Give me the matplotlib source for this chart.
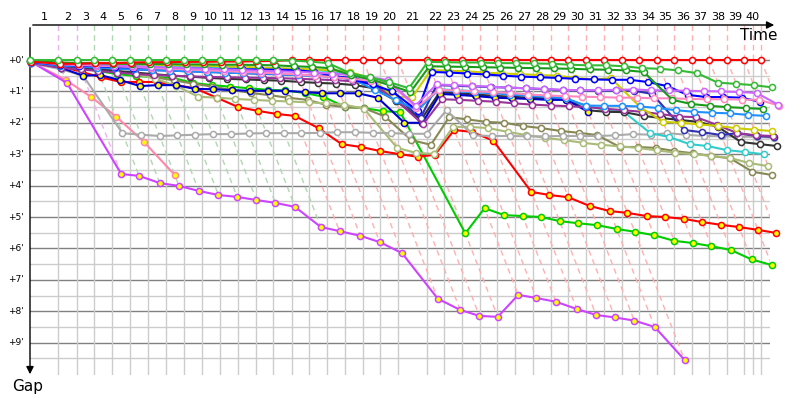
import numpy as np
import matplotlib.pyplot as plt
import matplotlib.transforms as mtrans

# leader's elapsed time (minutes) at the end of each lap, lap 0 = start
leader_time = [0.0, 2.30, 3.85, 5.25, 6.72, 8.20, 9.67, 11.15, 12.62, 14.10,
               15.57, 17.05, 18.52, 19.92, 21.48, 22.87, 24.34, 25.82, 27.30, 28.69,
               30.16, 32.54, 33.93, 35.41, 36.89, 38.28, 39.75, 41.23, 42.70, 44.10,
               45.57, 47.05, 48.52, 49.92, 51.39, 52.79, 54.26, 55.66, 57.13, 58.52,
               59.92]
time_limit = 59.26

# gap to the leader (minutes) after each lap, lap 0 = start
gap_red = [0.05, 0.12, 0.12, 0.10, 0.10, 0.08, 0.07, 0.07, 0.06, 0.06, 0.05, 0.05, 0.04, 0.03,
           0, 0, 0, 0, 0, 0, 0, 0, 0, 0, 0, 0, 0, 0, 0, 0, 0, 0, 0, 0, 0, 0, 0, 0, 0, 0, 0]
gap_green = [0, 0, 0, 0, 0, 0, 0, 0, 0, 0, 0, 0, 0, 0, 0.02, 0.05, 0.10, 0.42, 0.55, 0.70,
             0.90, 0.06, 0.07, 0.08, 0.08, 0.10, 0.10, 0.11, 0.12, 0.15, 0.17, 0.17, 0.20,
             0.26, 0.28, 0.33, 0.42, 0.72, 0.76, 0.80, 0.87]
gap_dkgreen = [0.03, 0.08, 0.10, 0.10, 0.12, 0.12, 0.13, 0.13, 0.14, 0.14, 0.15, 0.15, 0.16,
               0.17, 0.20, 0.22, 0.26, 0.48, 0.62, 0.80, 1.02, 0.20, 0.21, 0.22, 0.23, 0.24,
               0.25, 0.26, 0.27, 0.28, 0.30, 0.31, 0.33, 0.38, 1.27, 1.40, 1.46, 1.50, 1.53, 1.56]
gap_violet = [0.02, 0.10, 0.12, 0.15, 0.18, 0.20, 0.22, 0.24, 0.26, 0.28, 0.30, 0.32, 0.34,
              0.36, 0.38, 0.40, 0.43, 0.48, 0.55, 0.64, 1.45, 0.78, 0.80, 0.82, 0.85, 0.88,
              0.90, 0.92, 0.95, 0.96, 0.96, 0.95, 0.94, 0.96, 0.97, 0.98, 0.99, 1.00, 1.02,
              1.05, 1.43]
gap_pink = [0.04, 0.14, 0.16, 0.18, 0.20, 0.22, 0.25, 0.28, 0.30, 0.33, 0.35, 0.38, 0.40,
            0.43, 0.46, 0.50, 0.55, 0.60, 0.66, 0.70, 1.52, 0.95, 0.97, 1.00, 1.02, 1.05,
            1.10, 1.13, 1.15, 1.17, 1.18, 1.20, 1.20, 1.22, 1.22, 1.24, 1.25, 1.25, 1.26,
            1.27, 1.45]
gap_blue = [0.06, 0.15, 0.18, 0.20, 0.22, 0.24, 0.25, 0.26, 0.27, 0.28, 0.29, 0.30, 0.30,
            0.31, 0.32, 0.38, 0.50, 0.62, 0.78, 1.00, 1.62, 0.38, 0.40, 0.43, 0.46, 0.50,
            0.53, 0.55, 0.57, 0.60, 0.62, 0.63, 0.63, 0.70, 0.83, 1.11, 1.18, 1.18, 1.20, 1.33]
gap_ltblue = [0.08, 0.18, 0.20, 0.24, 0.27, 0.30, 0.32, 0.34, 0.36, 0.38, 0.40, 0.42, 0.43,
              0.45, 0.48, 0.50, 0.55, 0.60, 0.95, 1.27, 1.60, 0.95, 1.00, 1.03, 1.06, 1.10,
              1.14, 1.18, 1.22, 1.45, 1.46, 1.46, 1.48, 1.53, 1.60, 1.65, 1.68, 1.70, 1.75, 1.78]
gap_yellow = [0.03, 0.10, 0.11, 0.12, 0.13, 0.14, 0.15, 0.16, 0.17, 0.18, 0.20, 0.22, 0.24,
              0.26, 0.28, 0.30, 0.32, 0.38, 0.57, 1.18, 1.18, 0.32, 0.34, 0.36, 0.40, 0.43,
              0.45, 0.48, 0.50, 0.57, 0.62, 0.58, 1.50, 1.97, 2.00, 2.05, 2.10, 2.17, 2.22, 2.26]
gap_purple = [0.10, 0.25, 0.30, 0.35, 0.40, 0.45, 0.48, 0.50, 0.52, 0.54, 0.55, 0.56, 0.57,
              0.58, 0.60, 0.62, 0.64, 0.68, 0.78, 1.25, 2.05, 1.25, 1.27, 1.30, 1.33, 1.38,
              1.42, 1.45, 1.47, 1.50, 1.55, 1.60, 1.65, 1.72, 1.80, 1.82, 2.07, 2.33, 2.40, 2.42]
gap_dkblue = [0.07, 0.20, 0.22, 0.25, 0.28, 0.30, 0.32, 0.34, 0.36, 0.38, 0.40, 0.42, 0.44,
              0.46, 0.48, 0.50, 0.52, 0.56, 0.72, 1.10, 1.85, 0.80, 0.82, 0.84, 0.86, 0.88,
              0.90, 0.93, 0.96, 0.97, 0.98, 0.97, 0.98, 1.08, 2.23, 2.30, 2.39, 2.33, 2.42, 2.45]
gap_grey = [0.10, 0.30, 0.50, 2.33, 2.38, 2.42, 2.40, 2.38, 2.36, 2.36, 2.34, 2.33, 2.33,
            2.33, 2.32, 2.30, 2.30, 2.32, 2.33, 2.35, 2.35, 1.60, 2.40, 2.42, 2.42, 2.43,
            2.43, 2.42, 2.42, 2.42, 2.40, 2.36, 2.38, 2.33, 2.38, 2.42, 2.43, 2.44, 2.45, 2.48]
gap_black = [0.06, 0.20, 0.25, 0.30, 0.35, 0.40, 0.45, 0.50, 0.53, 0.57, 0.60, 0.62, 0.64,
             0.66, 0.70, 0.73, 0.75, 0.80, 0.90, 1.30, 1.90, 1.03, 1.06, 1.10, 1.14, 1.17,
             1.20, 1.22, 1.24, 1.60, 1.65, 1.66, 1.78, 1.85, 1.91, 1.97, 2.13, 2.61, 2.68, 2.74]
gap_cyan = [0.04, 0.12, 0.14, 0.16, 0.18, 0.19, 0.20, 0.21, 0.22, 0.23, 0.24, 0.25, 0.26,
            0.27, 0.29, 0.32, 0.36, 0.45, 0.62, 1.30, 1.60, 0.93, 0.96, 0.99, 1.02, 1.05,
            1.10, 1.15, 1.25, 1.45, 1.60, 1.66, 2.33, 2.45, 2.68, 2.74, 2.87, 2.93, 3.00]
gap_ltolive = [0.08, 0.22, 0.28, 0.32, 0.38, 0.45, 0.60, 0.82, 1.17, 1.20, 1.24, 1.27, 1.30,
               1.32, 1.35, 1.38, 1.42, 1.55, 2.80, 2.96, 2.99, 2.13, 2.13, 2.17, 2.29, 2.39,
               2.48, 2.55, 2.64, 2.70, 2.75, 2.80, 2.88, 2.95, 3.00, 3.05, 3.12, 3.28, 3.38]
gap_olive = [0.05, 0.15, 0.20, 0.28, 0.35, 0.45, 0.55, 0.65, 0.75, 0.85, 0.95, 1.05, 1.12,
             1.20, 1.27, 1.43, 1.50, 1.53, 1.80, 2.55, 2.70, 1.82, 1.89, 1.97, 2.00, 2.10,
             2.17, 2.26, 2.32, 2.39, 2.77, 2.77, 2.80, 2.90, 2.97, 3.06, 3.13, 3.56, 3.66]
gap_red2 = [0.10, 0.20, 0.38, 0.55, 0.70, 0.70, 0.70, 0.80, 0.90, 1.20, 1.50, 1.62, 1.72,
            1.78, 2.17, 2.68, 2.77, 2.90, 3.00, 3.08, 3.02, 2.23, 2.29, 2.57, 4.20, 4.30,
            4.37, 4.65, 4.81, 4.87, 4.97, 5.00, 5.06, 5.16, 5.25, 5.32, 5.41, 5.51]
gap_green2 = [0.05, 0.15, 0.25, 0.35, 0.45, 0.51, 0.55, 0.57, 0.73, 0.80, 0.85, 0.90, 0.95,
              0.97, 1.05, 1.17, 1.50, 1.53, 1.63, 1.66, 5.52, 4.72, 4.94, 4.97, 5.00, 5.13,
              5.20, 5.26, 5.38, 5.47, 5.58, 5.76, 5.83, 5.93, 6.05, 6.35, 6.53]
gap_magenta = [0.05, 0.73, 3.63, 3.69, 3.92, 4.01, 4.17, 4.30, 4.36, 4.46, 4.55, 4.68, 5.32,
               5.45, 5.60, 5.80, 6.15, 7.60, 7.96, 8.15, 8.18, 7.48, 7.58, 7.70, 7.93, 8.12,
               8.20, 8.30, 8.50, 9.55]
gap_pink2 = [0.05, 0.64, 1.18, 1.80, 2.60, 3.66]
gap_bluey = [0.06, 0.25, 0.50, 0.48, 0.64, 0.83, 0.80, 0.80, 0.92, 0.93, 0.96, 0.98, 0.98,
             0.98, 1.02, 1.06, 1.06, 1.06, 1.20, 2.00, 2.00, 1.08, 1.11, 1.15, 1.20, 1.22,
             1.24, 1.27, 1.27, 1.65]

# (gaps, line colour, marker fill), drawn back to front
drivers = [
    (gap_pink2, '#ff88aa', '#ffff00'),
    (gap_magenta, '#cc44ff', '#ffff00'),
    (gap_green2, '#00cc00', '#ffff00'),
    (gap_red2, '#ff0000', '#ffff00'),
    (gap_olive, '#888855', 'white'),
    (gap_ltolive, '#aabb77', 'white'),
    (gap_grey, '#aaaaaa', 'white'),
    (gap_cyan, '#33cccc', 'white'),
    (gap_black, '#333333', 'white'),
    (gap_bluey, '#0000cc', '#ffff00'),
    (gap_dkblue, '#3030b0', 'white'),
    (gap_purple, '#993399', 'white'),
    (gap_yellow, '#cccc00', 'white'),
    (gap_ltblue, '#1e90ff', 'white'),
    (gap_blue, '#0000ff', 'white'),
    (gap_pink, '#ff88c0', 'white'),
    (gap_violet, '#cc66ff', 'white'),
    (gap_dkgreen, '#1a9a1a', 'white'),
    (gap_red, '#ff0000', 'white'),
    (gap_green, '#33bb33', 'white'),
]

n_laps = len(leader_time) - 1
y_top, y_bot = -35 / 31.4, 315 / 31.4

fig = plt.figure(figsize=(8, 4), dpi=100)
ax = fig.add_axes([30 / 800, 25 / 400, 740 / 800, 350 / 400])
ax.set_xlim(0, 740 / 12.2)
ax.set_ylim(y_bot, y_top)
ax.axis('off')

# horizontal grid: minutes dark, half minutes light
for h in np.arange(0, 10, 0.5):
    ax.axhline(h, color='#808080' if h % 1 == 0 else '#cccccc', lw=1, zorder=1)

# vertical grid at the leader's lap times
grid_x = list(leader_time[1:]) + [time_limit]
ax.vlines(grid_x, 0, y_bot, color='#cccccc', lw=1, zorder=1)

# the deepest gap on each lap, where the lap diagonal stops
max_gap = [0.0] * (n_laps + 1)
for g, _, _ in drivers:
    for lap, v in enumerate(g):
        max_gap[lap] = max(max_gap[lap], v)


def lap_colour(lap):
    if lap <= 2:
        return '#f0b0f0'
    if lap <= 12:
        return '#b0d8b0'
    return '#ffb0b0'


dash = (0, (4, 3))
for lap in range(1, n_laps + 1):
    t = leader_time[lap]
    c = lap_colour(lap)
    ax.plot([t, t], [y_top, 0], color=c, lw=1, ls=dash, zorder=2)
    ax.plot([t, t + max_gap[lap]], [0, max_gap[lap]], color=c, lw=1, ls=dash, zorder=2)
ax.plot([time_limit, time_limit], [y_top, 0], color='#ffb0b0', lw=1, ls=dash, zorder=2)

# one line per car: x = leader's time at that lap + own gap
for i, (g, col, fill) in enumerate(drivers):
    g = np.array(g)
    x = np.array(leader_time[:len(g)]) + g
    ax.plot(x, g, color=col, lw=1.5, marker='o', ms=4.4, mfc=fill, mec=col,
            mew=1.1, zorder=3 + i, clip_on=False)

# lap numbers centred in each lap interval
bounds = [0.0] + grid_x
for lap in range(1, n_laps + 1):
    xm = (bounds[lap - 1] + bounds[lap]) / 2
    ax.text(xm, 1 + 8 / 350, str(lap), transform=ax.get_xaxis_transform(),
            ha='center', va='center', fontsize=8)

# gap labels on the left
trans = mtrans.blended_transform_factory(ax.transAxes, ax.transData)
for m in range(10):
    ax.text(-22 / 740, m, "+%d'" % m, transform=trans, ha='left', va='center',
            fontsize=6.5)

# axes with arrows
ax.annotate('', xy=(747 / 740, 1), xytext=(0, 1), xycoords='axes fraction',
            arrowprops=dict(arrowstyle='-|>', color='black', lw=1, mutation_scale=11),
            annotation_clip=False)
ax.annotate('', xy=(0, -2 / 350), xytext=(0, 1), xycoords='axes fraction',
            arrowprops=dict(arrowstyle='-|>', color='black', lw=1, mutation_scale=11),
            annotation_clip=False)
ax.text(747 / 740, 1 - 11 / 350, 'Time', transform=ax.transAxes, ha='right',
        va='center', fontsize=11)
ax.text(-18 / 740, -11 / 350, 'Gap', transform=ax.transAxes, ha='left',
        va='center', fontsize=11)

fig.savefig('out.png', dpi=100)
